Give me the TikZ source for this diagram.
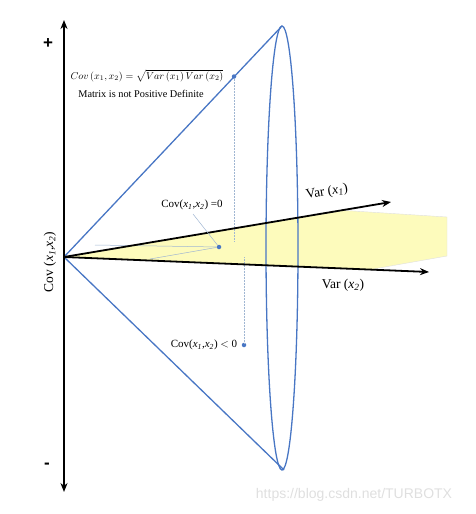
\documentclass[tikz,border=0pt]{standalone}
\usepackage{fontspec}
\setmainfont{Liberation Serif}
\newfontfamily\arialfont{Liberation Sans}
\usetikzlibrary{arrows.meta}
\definecolor{coneblue}{RGB}{72,118,196}
\definecolor{yellowfill}{RGB}{253,251,188}
\definecolor{faint}{RGB}{160,182,210}
\newcommand{\xs}[1]{\textit{x\textsubscript{#1}}}
\tikzset{
  axisline/.style={black, line width=1.8pt, -{Stealth[length=9pt,width=7pt]}},
  coneline/.style={coneblue, line width=1.3pt},
  thinline/.style={faint, line width=0.5pt},
  dotline/.style={faint, line width=0.5pt, densely dotted},
  bluedot/.style={circle, fill=coneblue, inner sep=0pt, minimum size=4.5pt},
  lbl/.style={inner sep=0pt, font=\fontsize{11}{12}\selectfont},
  biglbl/.style={inner sep=0pt, font=\fontsize{13.5}{15}\selectfont},
}
\begin{document}
\begin{tikzpicture}[x=1pt,y=-1pt]
\useasboundingbox (0,0) rectangle (475,514);
% key points
\coordinate (apex) at (64,257);
\coordinate (top) at (282,26);
\coordinate (bot) at (284,470);
\coordinate (axtop) at (64,20);
\coordinate (axbot) at (64,492);
\coordinate (v1) at (391,202);
\coordinate (v2) at (429,272);
\coordinate (y1) at (345,210.5);
\coordinate (y2) at (447,217);
\coordinate (y3) at (447,256);
\coordinate (y4) at (370,269.6);
% yellow region
\fill[yellowfill] (apex) -- (y1) -- (y2) -- (y3) -- (y4) -- cycle;
\draw[gray!25, line width=0.4pt] (y1) -- (y2) -- (y3) -- (y4);
% faint construction lines
\node[bluedot] (d0) at (219,247) {};
\node[bluedot] (dtop) at (234,76.5) {};
\node[bluedot] (dneg) at (244,345) {};
\coordinate (f1) at (95,245);
\coordinate (f2) at (150,259);
\coordinate (vt) at (234,242);
\coordinate (vb) at (244,257);
\draw[thinline] (f1) -- (d0);
\draw[thinline] (f2) -- (d0);
\draw[dotline] (dtop) -- (vt);
\draw[dotline] (vb) -- (dneg);
% cone
\draw[coneline] (apex) -- (top);
\draw[coneline] (apex) -- (bot);
\draw[coneline] (282,248) ellipse[x radius=16pt, y radius=222pt];
% axes
\draw[black, line width=1.8pt, {Stealth[length=9pt,width=7pt]}-{Stealth[length=9pt,width=7pt]}] (axbot) -- (axtop);
\draw[axisline] (apex) -- (v1);
\draw[axisline] (apex) -- (v2);
% labels
\node[inner sep=0pt, font=\arialfont\bfseries\fontsize{17}{18}\selectfont] (plus) at (48,44) {+};
\node[inner sep=0pt, font=\arialfont\bfseries\fontsize{17}{18}\selectfont] (minus) at (47,466) {-};
\node[inner sep=0pt, font=\fontsize{10.3}{12}\selectfont] (formula) at (147,76)
  {$Cov\left(x_1,x_2\right)=\sqrt{Var\left(x_1\right)Var\left(x_2\right)}$};
\node[inner sep=0pt, font=\fontsize{10.3}{12}\selectfont] (matrix) at (141,94) {Matrix is not Positive Definite};
\node[lbl] (c0) at (192,205) {Cov(\xs{1},\xs{2}) =0};
\draw[thinline] (193,214) -- (d0);
\node[lbl] (cneg) at (204,345) {Cov(\xs{1},\xs{2}) $<$ 0};
\node[biglbl, rotate=9.4] (var1) at (327,192) {Var (\xs{1})};
\node[biglbl] (var2) at (343,285) {Var (\xs{2})};
\node[biglbl, rotate=90] (cov) at (50,262) {Cov (\xs{1},\xs{2})};
\node[inner sep=0pt, text=gray!25, font=\arialfont\fontsize{14}{16}\selectfont] (wm) at (354,495) {https://blog.csdn.net/TURBOTX};
\end{tikzpicture}
\end{document}
